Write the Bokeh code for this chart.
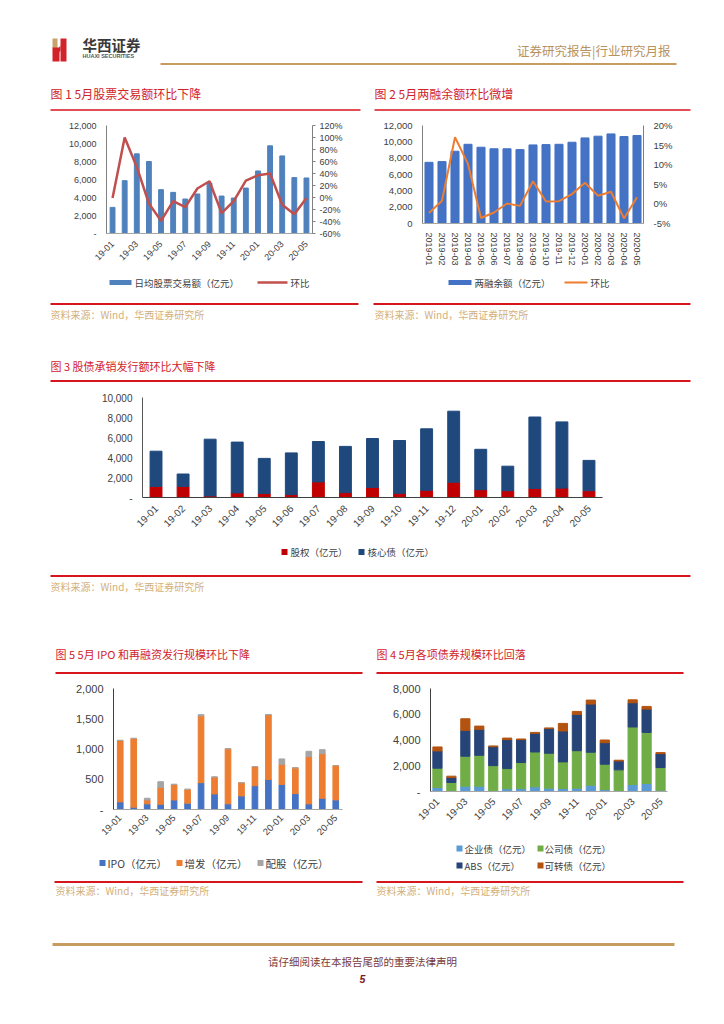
import math
from bokeh.plotting import figure
from bokeh.models import (Range1d, LinearAxis, FixedTicker, NumeralTickFormatter,
                          PrintfTickFormatter, ColumnDataSource)
from bokeh.layouts import column, row
from bokeh.embed import file_html
from bokeh.resources import INLINE
from bokeh.core.properties import value

CJK = "Noto Sans CJK SC"
NUM = "Liberation Sans"

# ---------------- data ----------------
months_short = ["19-01", "19-02", "19-03", "19-04", "19-05", "19-06", "19-07", "19-08", "19-09",
                "19-10", "19-11", "19-12", "20-01", "20-02", "20-03", "20-04", "20-05"]
months_long = ["2019-01", "2019-02", "2019-03", "2019-04", "2019-05", "2019-06", "2019-07", "2019-08",
               "2019-09", "2019-10", "2019-11", "2019-12", "2020-01", "2020-02", "2020-03", "2020-04", "2020-05"]

# Fig 1: daily average stock turnover (100m yuan) and MoM (%)
turnover = [2900, 5870, 8850, 8000, 4870, 4570, 3830, 4390, 5600, 4160, 3940, 5050, 6950, 9740, 8620, 6210, 6170]
turnover_mom = [-1, 100, 51, -10, -39, -6, -16, 15, 27, -26, -6, 28, 37, 40, -12, -28, -1]
fig1_names = ["日均股票交易额（亿元）", "环比"]
fig1_colors = ["#4F81BD", "#C0504D"]

# Fig 2: margin balance (100m yuan) and MoM (%)
margin_bal = [7490, 7580, 8850, 9700, 9340, 9150, 9150, 9050, 9620, 9660, 9700, 9950, 10480, 10690, 10970, 10650, 10770]
margin_mom = [-2.3, 0.8, 17.0, 10.2, -3.6, -2.2, 0.1, -0.5, 5.8, 0.6, 0.7, 2.5, 5.4, 2.1, 3.1, -3.7, 1.7]
fig2_names = ["两融余额（亿元）", "环比"]
fig2_colors = ["#4472C4", "#ED7D31"]

# Fig 3: underwriting (100m yuan)
equity = [1110, 1110, 160, 460, 390, 290, 1560, 490, 1010, 420, 720, 1530, 780, 680, 910, 940, 680]
core_debt = [3520, 1240, 5670, 5080, 3520, 4170, 4040, 4620, 4890, 5280, 6150, 7100, 4040, 2450, 7140, 6620, 3030]
fig3_names = ["股权（亿元）", "核心债（亿元）"]
fig3_colors = ["#C00000", "#1F497D"]

# Fig 5: IPO and refinancing (100m yuan)
ipo = [126, 38, 93, 87, 158, 104, 443, 257, 93, 224, 393, 497, 415, 262, 93, 186, 158]
placement = [1016, 1137, 65, 279, 257, 229, 1103, 279, 912, 219, 317, 1071, 334, 427, 781, 737, 569]
rights = [0, 0, 28, 93, 0, 0, 22, 0, 0, 0, 0, 0, 87, 0, 88, 66, 0]
fig5_names = ["IPO（亿元）", "增发（亿元）", "配股（亿元）"]
fig5_colors = ["#4472C4", "#ED7D31", "#A5A5A5"]

# Fig 4: bond issuance (100m yuan)
ent_bond = [310, 50, 410, 410, 50, 210, 230, 360, 260, 230, 260, 490, 150, 50, 540, 620, 100]
corp_bond = [1500, 650, 2330, 2400, 1960, 1570, 2020, 2710, 2710, 2070, 2910, 2560, 1970, 1630, 4470, 3970, 1760]
abs_bond = [1340, 380, 2010, 2020, 1470, 2250, 1780, 1450, 1930, 2400, 2820, 3740, 1670, 690, 1880, 1810, 1080]
conv_bond = [310, 110, 900, 250, 60, 120, 50, 70, 30, 590, 230, 310, 210, 60, 230, 210, 80]
fig4_names = ["企业债（亿元）", "公司债（亿元）", "ABS（亿元）", "可转债（亿元）"]
fig4_colors = ["#5B9BD5", "#70AD47", "#264478", "#B3530F"]

titles = ["图 1  5月股票交易额环比下降", "图 2  5月两融余额环比微增", "图 3  股债承销发行额环比大幅下降",
          "图 5  5月 IPO 和再融资发行规模环比下降", "图 4  5月各项债券规模环比回落"]
source_txt = "资料来源：Wind，华西证券研究所"

RED = "#D7151C"
TITLE_RED = "#D2232A"
SRC = "#D4B07A"
GOLD = "#C69C60"
TXT = "#404040"
W = 724

xs = list(range(len(months_short)))
every2 = xs[::2]


# ---------------- helpers ----------------
def deco(y0, y1):
    p = figure(width=W, height=y1 - y0, x_range=Range1d(0, W), y_range=Range1d(y1, y0),
               output_backend="svg", toolbar_location=None, min_border=0,
               x_axis_location=None, y_axis_location=None)
    p.grid.visible = False
    p.outline_line_color = None
    return p


def put_text(p, x, y, texts, size, color, align="left", font=CJK, style="normal"):
    p.text(x=x, y=y, text=texts, text_font=value(font), text_font_size=f"{size}px",
           text_color=color, text_align=align, text_baseline="middle", text_font_style=style)


def swatches(p, lefts, widths, ycs, h, colors):
    p.quad(left=lefts, right=[l + w for l, w in zip(lefts, widths)],
           top=[y - h / 2 for y in ycs], bottom=[y + h / 2 for y in ycs],
           fill_color=colors, line_color=None)


def chart(w, h, left, right, top, bottom, yr):
    p = figure(width=w, height=h, x_range=Range1d(-0.5, len(xs) - 0.5), y_range=yr,
               output_backend="svg", toolbar_location=None,
               min_border_left=left, min_border_right=right, min_border_top=top, min_border_bottom=bottom)
    p.grid.visible = False
    p.outline_line_color = None
    return p


def style_axis(ax, size, color="#808080", standoff=4):
    ax.major_label_text_font = NUM
    ax.major_label_text_font_size = f"{size}px"
    ax.major_label_text_color = TXT
    ax.major_tick_line_color = None
    ax.minor_tick_line_color = None
    ax.axis_line_color = color
    ax.major_label_standoff = standoff


# ---------------- segment A: header (y 0..118) ----------------
pA = deco(0, 118)
pA.patches(xs=[[52, 57, 57, 52], [52, 59, 59, 52], [60, 66, 66, 60], [57, 60, 60, 57]],
           ys=[[38, 38, 48, 48], [47, 47, 61, 61], [38, 38, 61, 61], [49, 45, 50, 54]],
           fill_color=["#C9A46A", "#D2232A", "#D2232A", "#D2232A"], line_color=None)
put_text(pA, [82], [43.5], ["华西证券"], 14.5, "#3A3A3A", style="bold")
put_text(pA, [82], [55.5], ["HUAXI SECURITIES"], 5.5, "#555555", font=NUM, style="bold")
put_text(pA, [670], [50], ["证券研究报告|行业研究月报"], 12.5, "#B8925E", align="right")
pA.segment(x0=[160], y0=[63.5], x1=[676], y1=[63.5], line_color=GOLD, line_width=2)
put_text(pA, [50, 374], [93, 93], titles[:2], 12, TITLE_RED)
pA.segment(x0=[50, 374], y0=[109.5, 109.5], x1=[360, 690], y1=[109.5, 109.5], line_color=RED, line_width=1.5)

# ---------------- segment B: charts 1 & 2 (y 118..270) ----------------
p1 = chart(362, 152, 106, 50, 7, 37, Range1d(0, 12000))
p1.extra_y_ranges = {"pct": Range1d(-60, 120)}
p1.vbar(x=xs, top=turnover, width=0.4, color=fig1_colors[0])
p1.line(x=xs, y=turnover_mom, y_range_name="pct", line_color=fig1_colors[1], line_width=2.5)
ax1l = p1.yaxis[0]
ax1l.ticker = FixedTicker(ticks=list(range(0, 12001, 2000)))
ax1l.formatter = NumeralTickFormatter(format="0,0")
ax1l.major_label_overrides = {0: "-"}
style_axis(ax1l, 9)
ax1r = LinearAxis(y_range_name="pct", ticker=FixedTicker(ticks=list(range(-60, 121, 20))),
                  formatter=PrintfTickFormatter(format="%d%%"))
style_axis(ax1r, 9)
ax1r.major_tick_line_color = "#808080"
ax1r.major_tick_out = 3
ax1r.major_tick_in = 0
p1.add_layout(ax1r, "right")
p1.xaxis.ticker = FixedTicker(ticks=every2)
p1.xaxis.major_label_overrides = {i: months_short[i] for i in every2}
p1.xaxis.major_label_orientation = math.pi / 4
style_axis(p1.xaxis[0], 9, "#A6A6A6", 3)

p2 = chart(362, 152, 60, 81, 7, 47, Range1d(0, 12000))
p2.extra_y_ranges = {"pct": Range1d(-5, 20)}
p2.vbar(x=xs, top=margin_bal, width=0.62, color=fig2_colors[0])
p2.line(x=xs, y=margin_mom, y_range_name="pct", line_color=fig2_colors[1], line_width=2)
ax2l = p2.yaxis[0]
ax2l.ticker = FixedTicker(ticks=list(range(0, 12001, 2000)))
ax2l.formatter = NumeralTickFormatter(format="0,0")
style_axis(ax2l, 9.5)
ax2r = LinearAxis(y_range_name="pct", ticker=FixedTicker(ticks=list(range(-5, 21, 5))),
                  formatter=PrintfTickFormatter(format="%d%%"))
style_axis(ax2r, 9.5)
p2.add_layout(ax2r, "right")
p2.xaxis.ticker = FixedTicker(ticks=xs)
p2.xaxis.major_label_overrides = {i: months_long[i] for i in xs}
p2.xaxis.major_label_orientation = "vertical"
style_axis(p2.xaxis[0], 9, "#A6A6A6", 3)

# ---------------- segment C (y 270..390) ----------------
pC = deco(270, 390)
swatches(pC, [109], [22], [282], 5, [fig1_colors[0]])
pC.segment(x0=[257], y0=[282], x1=[287], y1=[282], line_color=fig1_colors[1], line_width=2.5)
put_text(pC, [134, 290], [282, 282], fig1_names, 9.5, TXT)
swatches(pC, [448], [23], [282], 5, [fig2_colors[0]])
pC.segment(x0=[564], y0=[282], x1=[587], y1=[282], line_color=fig2_colors[1], line_width=2)
put_text(pC, [474, 590], [282, 282], fig2_names, 9.5, TXT)
pC.segment(x0=[50, 373], y0=[303.5, 303.5], x1=[358, 690], y1=[303.5, 303.5], line_color=RED, line_width=2)
put_text(pC, [50, 374], [313.5, 313.5], [source_txt, source_txt], 10, SRC)
put_text(pC, [50], [365], [titles[2]], 11, TITLE_RED)
pC.segment(x0=[50], y0=[380.5], x1=[690], y1=[380.5], line_color=RED, line_width=2)

# ---------------- segment D: chart 3 (y 390..540) ----------------
p3 = chart(W, 150, 142, 122, 7, 43, Range1d(0, 10000))
src3 = ColumnDataSource(dict(x=xs, equity=equity, core=core_debt))
p3.vbar_stack(["equity", "core"], x="x", width=0.44, color=fig3_colors, source=src3)
ax3 = p3.yaxis[0]
ax3.ticker = FixedTicker(ticks=list(range(0, 10001, 2000)))
ax3.formatter = NumeralTickFormatter(format="0,0")
ax3.major_label_overrides = {0: "-"}
style_axis(ax3, 10, "#595959")
p3.xaxis.ticker = FixedTicker(ticks=xs)
p3.xaxis.major_label_overrides = {i: months_short[i] for i in xs}
p3.xaxis.major_label_orientation = math.pi / 4
style_axis(p3.xaxis[0], 10, "#404040", 3)

# ---------------- segment E (y 540..680) ----------------
pE = deco(540, 680)
swatches(pE, [281, 358], [6, 6], [551.5, 551.5], 6, fig3_colors)
put_text(pE, [290, 367], [551.5, 551.5], fig3_names, 9.5, TXT)
pE.segment(x0=[50], y0=[575.5], x1=[690], y1=[575.5], line_color=RED, line_width=2)
put_text(pE, [50], [585.5], [source_txt], 10, SRC)
put_text(pE, [55, 376], [653, 653], [titles[3], titles[4]], 11, TITLE_RED)
pE.segment(x0=[55, 376], y0=[672.5, 672.5], x1=[362, 683], y1=[672.5, 672.5], line_color=RED, line_width=2)

# ---------------- segment F: charts 5 & 4 (y 680..840) ----------------
p4 = chart(362, 160, 113, 20, 8, 31, Range1d(0, 2000))
src4 = ColumnDataSource(dict(x=xs, ipo=ipo, placement=placement, rights=rights))
p4.vbar_stack(["ipo", "placement", "rights"], x="x", width=0.42, color=fig5_colors, source=src4)
ax4 = p4.yaxis[0]
ax4.ticker = FixedTicker(ticks=list(range(0, 2001, 500)))
ax4.formatter = NumeralTickFormatter(format="0,0")
ax4.major_label_overrides = {0: "-"}
style_axis(ax4, 11, "#404040")
p4.xaxis.ticker = FixedTicker(ticks=every2)
p4.xaxis.major_label_overrides = {i: months_short[i] for i in every2}
p4.xaxis.major_label_orientation = math.pi / 4
style_axis(p4.xaxis[0], 9.5, "#A6A6A6", 1)

p5 = chart(362, 160, 68, 57, 8, 49, Range1d(0, 8000))
src5 = ColumnDataSource(dict(x=xs, ent=ent_bond, corp=corp_bond, abs=abs_bond, conv=conv_bond))
p5.vbar_stack(["ent", "corp", "abs", "conv"], x="x", width=0.66, color=fig4_colors, source=src5)
ax5 = p5.yaxis[0]
ax5.ticker = FixedTicker(ticks=list(range(0, 8001, 2000)))
ax5.formatter = NumeralTickFormatter(format="0,0")
ax5.major_label_overrides = {0: "-"}
style_axis(ax5, 11, "#404040")
p5.xaxis.ticker = FixedTicker(ticks=every2)
p5.xaxis.major_label_overrides = {i: months_short[i] for i in every2}
p5.xaxis.major_label_orientation = math.pi / 4
style_axis(p5.xaxis[0], 10, "#A6A6A6", 2)

# ---------------- segment G: legends + footer (y 840..1018) ----------------
pG = deco(840, 1018)
swatches(pG, [99, 176, 257], [6, 6, 6], [862.5] * 3, 6, fig5_colors)
put_text(pG, [107, 184, 265], [862.5] * 3, fig5_names, 10.5, TXT)
swatches(pG, [456, 537, 456, 537], [6, 6, 6, 6], [848, 848, 865, 865], 6, fig4_colors)
put_text(pG, [464, 544, 464, 544], [848, 848, 865, 865], fig4_names, 9.5, TXT)
pG.segment(x0=[54, 376], y0=[881.5, 881.5], x1=[362, 683], y1=[881.5, 881.5], line_color=RED, line_width=2)
put_text(pG, [55, 376], [889.5, 889.5], [source_txt, source_txt], 10, SRC)
pG.segment(x0=[52], y0=[944], x1=[674], y1=[944], line_color=GOLD, line_width=3)
put_text(pG, [362], [961], ["请仔细阅读在本报告尾部的重要法律声明"], 10.5, "#7A3A3A", align="center")
put_text(pG, [362], [978], ["5"], 10.5, "#7B1A1A", align="center", font=NUM, style="bold italic")

# each chart wrapped in its own column so the row does not align the frames of neighbouring charts
layout = column(pA,
                row(column(p1), column(p2), spacing=0),
                pC,
                row(column(p3), spacing=0),
                pE,
                row(column(p4), column(p5), spacing=0),
                pG,
                spacing=0)

open("out.html", "w").write(file_html(layout, INLINE))
